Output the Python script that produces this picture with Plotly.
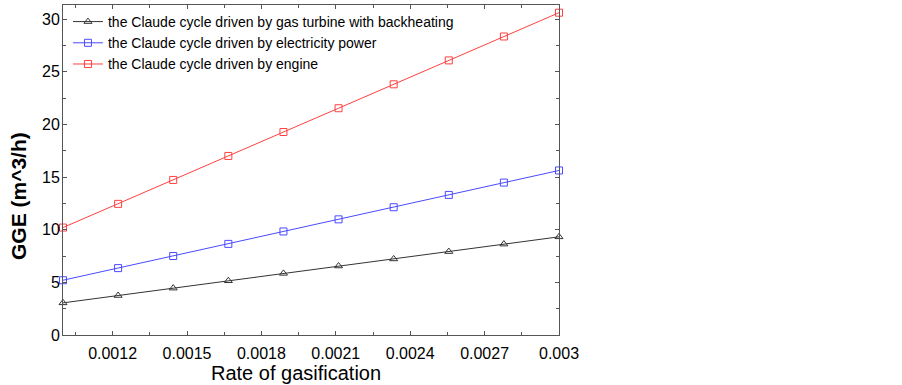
import plotly.graph_objects as go

x_rate = [0.001, 0.0012222, 0.0014444, 0.0016667, 0.0018889, 0.0021111, 0.0023333, 0.0025556, 0.0027778, 0.003]
gas_turbine = [3.05, 3.75, 4.45, 5.15, 5.85, 6.55, 7.22, 7.92, 8.63, 9.32]
electricity = [5.2, 6.35, 7.5, 8.65, 9.83, 10.98, 12.13, 13.3, 14.47, 15.62]
engine = [10.2, 12.45, 14.72, 17.0, 19.27, 21.53, 23.8, 26.07, 28.34, 30.6]
names = ["the Claude cycle driven by gas turbine with backheating",
         "the Claude cycle driven by electricity power",
         "the Claude cycle driven by engine"]
x_ticks = [0.0012, 0.0015, 0.0018, 0.0021, 0.0024, 0.0027, 0.003]
x_tick_text = ["0.0012", "0.0015", "0.0018", "0.0021", "0.0024", "0.0027", "0.003"]
y_ticks = [0, 5, 10, 15, 20, 25, 30]
x_title = "Rate of gasification"
y_title = "GGE (m^3/h)"

W, H = 902, 385
L, R, T, B = 63, 343, 5, 50

fig = go.Figure()
series = [(gas_turbine, "#333333", "triangle-up-open", 7),
          (electricity, "#4a4aff", "square-open", 7),
          (engine, "#ff4040", "square-open", 7)]
for (vals, col, sym, sz), nm in zip(series, names):
    fig.add_trace(go.Scatter(x=x_rate, y=vals, name=nm, mode="lines+markers",
                             line=dict(color=col, width=1),
                             marker=dict(symbol=sym, size=sz, color=col, line=dict(width=1, color=col)),
                             cliponaxis=False))

axis_common = dict(showline=True, linecolor="#555555", linewidth=1, mirror="ticks",
                   ticks="inside", ticklen=4, tickcolor="#555555", showgrid=False,
                   zeroline=False, automargin=False)
fig.update_layout(
    width=W, height=H,
    margin=dict(l=L, r=R, t=T, b=B),
    paper_bgcolor="white", plot_bgcolor="white",
    font=dict(family="Liberation Sans, Arial, sans-serif", color="black"),
    xaxis=dict(range=[0.001, 0.003], tickvals=x_ticks, ticktext=x_tick_text,
               tickfont=dict(size=16), ticklabelstandoff=4,
               minor=dict(ticks="inside", ticklen=3, tickcolor="#555555", dtick=0.00015, tick0=0.00105),
               **axis_common),
    yaxis=dict(range=[0, 31.33], tickvals=y_ticks, tickfont=dict(size=16), ticklabelstandoff=-1,
               minor=dict(ticks="inside", ticklen=3, tickcolor="#555555", dtick=2.5),
               **axis_common),
    legend=dict(x=0.01, y=0.997, xanchor="left", yanchor="top", bgcolor="rgba(0,0,0,0)",
                font=dict(size=14), tracegroupgap=0, itemwidth=30),
    showlegend=True,
    annotations=[
        dict(text=x_title, xref="paper", yref="paper",
             x=(296 - L) / (W - L - R), y=-(373 - (H - B)) / (H - T - B),
             xanchor="center", yanchor="middle", showarrow=False, font=dict(size=20)),
        dict(text="<b>" + y_title + "</b>", xref="paper", yref="paper", textangle=-90,
             x=-(L - 18) / (W - L - R), y=(H - B - 196) / (H - T - B),
             xanchor="center", yanchor="middle", showarrow=False, font=dict(size=21)),
    ],
)
fig.write_html("out.html", config={"displayModeBar": False},
               post_script="document.body.style.margin='0';")
